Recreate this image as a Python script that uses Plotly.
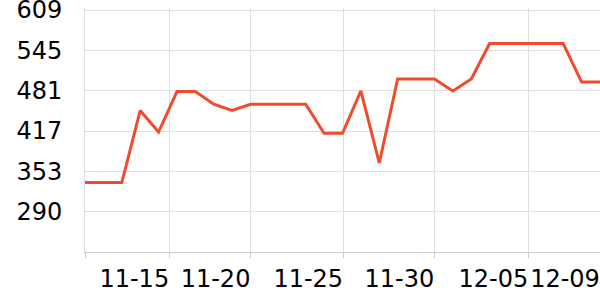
import plotly.graph_objects as go

dates = [
    "2023-11-11", "2023-11-12", "2023-11-13", "2023-11-14", "2023-11-15",
    "2023-11-16", "2023-11-17", "2023-11-18", "2023-11-19", "2023-11-20",
    "2023-11-21", "2023-11-22", "2023-11-23", "2023-11-24", "2023-11-25",
    "2023-11-26", "2023-11-27", "2023-11-28", "2023-11-29", "2023-11-30",
    "2023-12-01", "2023-12-02", "2023-12-03", "2023-12-04", "2023-12-05",
    "2023-12-06", "2023-12-07", "2023-12-08", "2023-12-09",
]
values = [
    336, 336, 336, 450, 416,
    480, 480, 460, 450, 460,
    460, 460, 460, 414, 414,
    481, 367, 500, 500, 500,
    481, 500, 556, 556, 556,
    556, 556, 495, 495,
]

x_tick_vals = ["2023-11-11", "2023-11-15 14:00", "2023-11-20", "2023-11-25 01:00",
               "2023-11-30", "2023-12-05 02:30", "2023-12-09"]
x_tick_text = ["", "11-15", "11-20", "11-25", "11-30", "12-05", "12-09"]

y_min, y_max = 226.2, 612.2
y_tick_vals = [290, 353.8, 417.6, 481.4, 545.2, 609]
y_tick_text = ["290", "353", "417", "481", "545", "609"]

fig = go.Figure()
fig.add_trace(go.Scatter(
    x=dates, y=values, mode="lines",
    line=dict(color="#f04b2c", width=3),
    hoverinfo="skip",
))

fig.update_layout(
    width=600, height=300,
    margin=dict(l=85, r=0, t=8, b=48, autoexpand=False),
    paper_bgcolor="white", plot_bgcolor="white",
    showlegend=False,
    font=dict(family="DejaVu Sans", size=24, color="#000000"),
)
fig.update_xaxes(
    type="date",
    range=[dates[0], dates[-1]],
    tickmode="array", tickvals=x_tick_vals, ticktext=x_tick_text,
    tickangle=0,
    showgrid=True, gridcolor="#e0e0e0", gridwidth=1,
    showline=True, linecolor="#cccccc", linewidth=1,
    ticks="outside", ticklen=5, tickcolor="#cccccc",
    ticklabelshift=-35, ticklabeloverflow="allow",
    zeroline=False, automargin=False,
)
fig.update_yaxes(
    range=[y_min, y_max],
    tickmode="array", tickvals=y_tick_vals, ticktext=y_tick_text,
    showgrid=True, gridcolor="#e0e0e0", gridwidth=1,
    showline=True, linecolor="#e0e0e0", linewidth=1,
    zeroline=False,
    ticks="", ticklabelstandoff=17, ticklabeloverflow="allow",
    automargin=False,
)

fig.write_html("out.html")
